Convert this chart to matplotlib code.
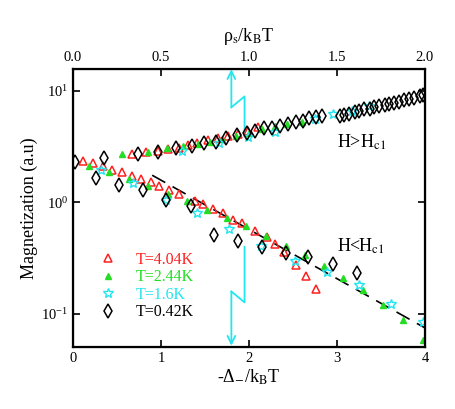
import matplotlib
matplotlib.use("Agg")
import matplotlib.pyplot as plt
from matplotlib.ticker import FixedLocator, FormatStrFormatter

plt.rcParams["font.family"] = ["Liberation Serif", "DejaVu Serif"]
plt.rcParams["mathtext.fontset"] = "stix"

# T = 4.04 K (open red triangles)
red_up_x = [0.67, 0.83, 0.97, 1.08, 1.20, 1.31, 1.41, 1.53, 1.65, 1.76, 1.88, 1.99, 2.10]
red_up_y = [2.69, 2.80, 2.86, 2.98, 3.10, 3.24, 3.38, 3.60, 3.75, 3.90, 4.10, 4.40, 4.70]
red_lo_x = [0.11, 0.23, 0.34, 0.44, 0.56, 0.67, 0.77, 0.89, 0.98, 1.09, 1.20, 1.39,
            1.48, 1.59, 1.70, 1.82, 1.92, 2.07, 2.20, 2.30, 2.40, 2.53, 2.65, 2.76]
red_lo_y = [2.33, 2.24, 2.10, 1.94, 1.86, 1.71, 1.61, 1.51, 1.39, 1.28, 1.20, 1.02,
            0.96, 0.88, 0.80, 0.70, 0.65, 0.55, 0.49, 0.42, 0.356, 0.272, 0.217, 0.166]

# T = 2.44 K (filled green triangles)
grn_up_x = [0.56, 0.85, 1.07, 1.25, 1.42, 1.56, 1.69, 1.85, 2.00, 2.15, 2.30, 2.43, 2.60]
grn_up_y = [2.69, 2.80, 3.05, 3.20, 3.30, 3.50, 3.67, 3.95, 4.20, 4.50, 4.80, 5.00, 5.30]
grn_lo_x = [0.18, 0.41, 0.64, 0.85, 1.08, 1.30, 1.52, 1.75, 1.97, 2.19, 2.42, 2.64,
            2.85, 3.07, 3.30, 3.52, 3.75, 3.98]
grn_lo_y = [2.10, 1.86, 1.61, 1.39, 1.20, 1.02, 0.85, 0.73, 0.61, 0.50, 0.41, 0.335,
            0.27, 0.208, 0.163, 0.120, 0.089, 0.058]

# T = 1.6 K (open cyan stars)
cyn_up_x = [1.24, 1.66, 1.99, 2.30, 2.75, 2.95, 3.17, 3.36]
cyn_up_y = [2.86, 3.38, 3.83, 4.30, 5.55, 6.20, 6.60, 7.30]
cyn_lo_x = [0.32, 0.68, 1.06, 1.41, 1.77, 2.14, 2.52, 2.89, 3.25, 3.61, 3.98]
cyn_lo_y = [1.94, 1.48, 1.06, 0.80, 0.58, 0.41, 0.30, 0.236, 0.180, 0.122, 0.084]

# T = 0.42 K (open black diamonds)
blk_up_x = [0.02, 0.35, 0.74, 0.97, 1.17, 1.35, 1.49, 1.63, 1.74, 1.86, 1.98, 2.07,
            2.17, 2.26, 2.35, 2.44, 2.53, 2.61, 2.68, 2.76, 2.83,
            3.03, 3.08, 3.14, 3.20, 3.25, 3.31, 3.37, 3.42, 3.48, 3.54, 3.59, 3.65,
            3.71, 3.76, 3.82, 3.88, 3.94, 3.98]
blk_up_y = [2.30, 2.48, 2.69, 2.80, 3.10, 3.18, 3.38, 3.45, 3.75, 3.99, 4.16, 4.33,
            4.61, 4.61, 4.80, 5.00, 5.20, 5.33, 5.67, 5.79, 5.91,
            5.90, 6.10, 6.20, 6.40, 6.60, 6.80, 6.90, 7.10, 7.30, 7.40, 7.60, 7.80,
            8.00, 8.20, 8.40, 8.60, 8.90, 9.20]
blk_lo_x = [0.26, 0.52, 0.80, 1.06, 1.34, 1.60, 1.875, 2.15, 2.42, 2.67, 2.95, 3.23]
blk_lo_y = [1.64, 1.42, 1.28, 1.04, 0.92, 0.506, 0.447, 0.395, 0.349, 0.321, 0.278, 0.231]

# dashed guide line (exponential decay)
fit_x = [0.9, 4.0]
fit_y = [1.75, 0.075]

# cyan arrow paths
arr_up_x = [1.95, 1.95, 1.80, 1.80]
arr_up_y = [4.2, 8.9, 7.1, 15.6]
arr_lo_x = [1.95, 1.95, 1.80, 1.80]
arr_lo_y = [0.40, 0.127, 0.159, 0.052]

fig = plt.figure(figsize=(4.56, 4.09), dpi=100)
ax = fig.add_axes([0.160, 0.1516, 0.772, 0.680])

cyan = "#22e5f0"
ax.plot(arr_up_x[:-1], arr_up_y[:-1], color=cyan, lw=1.3)
ax.annotate("", xy=(arr_up_x[-1], arr_up_y[-1]), xytext=(arr_up_x[-2], arr_up_y[-2]),
            arrowprops=dict(arrowstyle="->", color=cyan, lw=1.3, mutation_scale=14,
                            shrinkA=0, shrinkB=0))
ax.plot(arr_lo_x[:-1], arr_lo_y[:-1], color=cyan, lw=1.3)
ax.annotate("", xy=(arr_lo_x[-1], arr_lo_y[-1]), xytext=(arr_lo_x[-2], arr_lo_y[-2]),
            arrowprops=dict(arrowstyle="->", color=cyan, lw=1.3, mutation_scale=14,
                            shrinkA=0, shrinkB=0))

ax.plot(fit_x, fit_y, color="black", lw=1.2, dashes=(9, 5))

tri = dict(ls="none", marker="^", ms=6.3, mfc="none", mec="#ff2020", mew=1.1)
ax.plot(red_up_x, red_up_y, **tri)
ax.plot(red_lo_x, red_lo_y, label="T=4.04K", **tri)
gtri = dict(ls="none", marker="^", ms=5, mfc="#22dd22", mec="#22dd22")
ax.plot(grn_up_x, grn_up_y, **gtri)
ax.plot(grn_lo_x, grn_lo_y, label="T=2.44K", **gtri)
star = dict(ls="none", marker="*", ms=7.5, mfc="none", mec=cyan, mew=1.0)
ax.plot(cyn_up_x, cyn_up_y, **star)
ax.plot(cyn_lo_x, cyn_lo_y, label="T=1.6K", **star)
dia = dict(ls="none", marker="d", ms=6.8, mfc="none", mec="black", mew=1.1)
ax.plot(blk_up_x, blk_up_y, **dia)
ax.plot(blk_lo_x, blk_lo_y, label="T=0.42K", **dia)

ax.set_yscale("log")
ax.set_xlim(0, 4)
ax.set_ylim(0.0506, 15.7)
ax.set_xticks([0, 1, 2, 3, 4])
ax.yaxis.set_major_locator(FixedLocator([0.1, 1, 10]))
ax.yaxis.set_minor_locator(FixedLocator([]))
ax.tick_params(direction="in", length=5, width=1.2, labelsize=10.5, right=True)
ax.tick_params(axis="y", labelright=False)
for s in ax.spines.values():
    s.set_linewidth(1.6)

ax.set_xlabel("-Δ$_{-}$/k$_{\\mathrm{B}}$T", fontsize=13, labelpad=2)
ax.set_ylabel("Magnetization (a.u)", fontsize=13, labelpad=2)

top = ax.twiny()
top.set_xlim(0, 2)
top.set_xticks([0.0, 0.5, 1.0, 1.5, 2.0])
top.xaxis.set_major_formatter(FormatStrFormatter("%.1f"))
top.tick_params(direction="in", length=5, width=1.2, labelsize=10.5)
top.set_xlabel("ρ$_{\\mathrm{s}}$/k$_{\\mathrm{B}}$T", fontsize=13, labelpad=7)

ax.text(3.0, 3.45, r"H>H$_{\mathrm{c1}}$", fontsize=13, va="center")
ax.text(3.0, 0.40, r"H<H$_{\mathrm{c1}}$", fontsize=13, va="center")

leg = ax.legend(loc="upper left", bbox_to_anchor=(0.025, 0.395), frameon=False,
                fontsize=11.5, handletextpad=1.0, labelspacing=0.1, handlelength=1.5,
                labelcolor=["#ff2020", "#22dd22", cyan, "black"])

fig.savefig("out.png", dpi=100)
